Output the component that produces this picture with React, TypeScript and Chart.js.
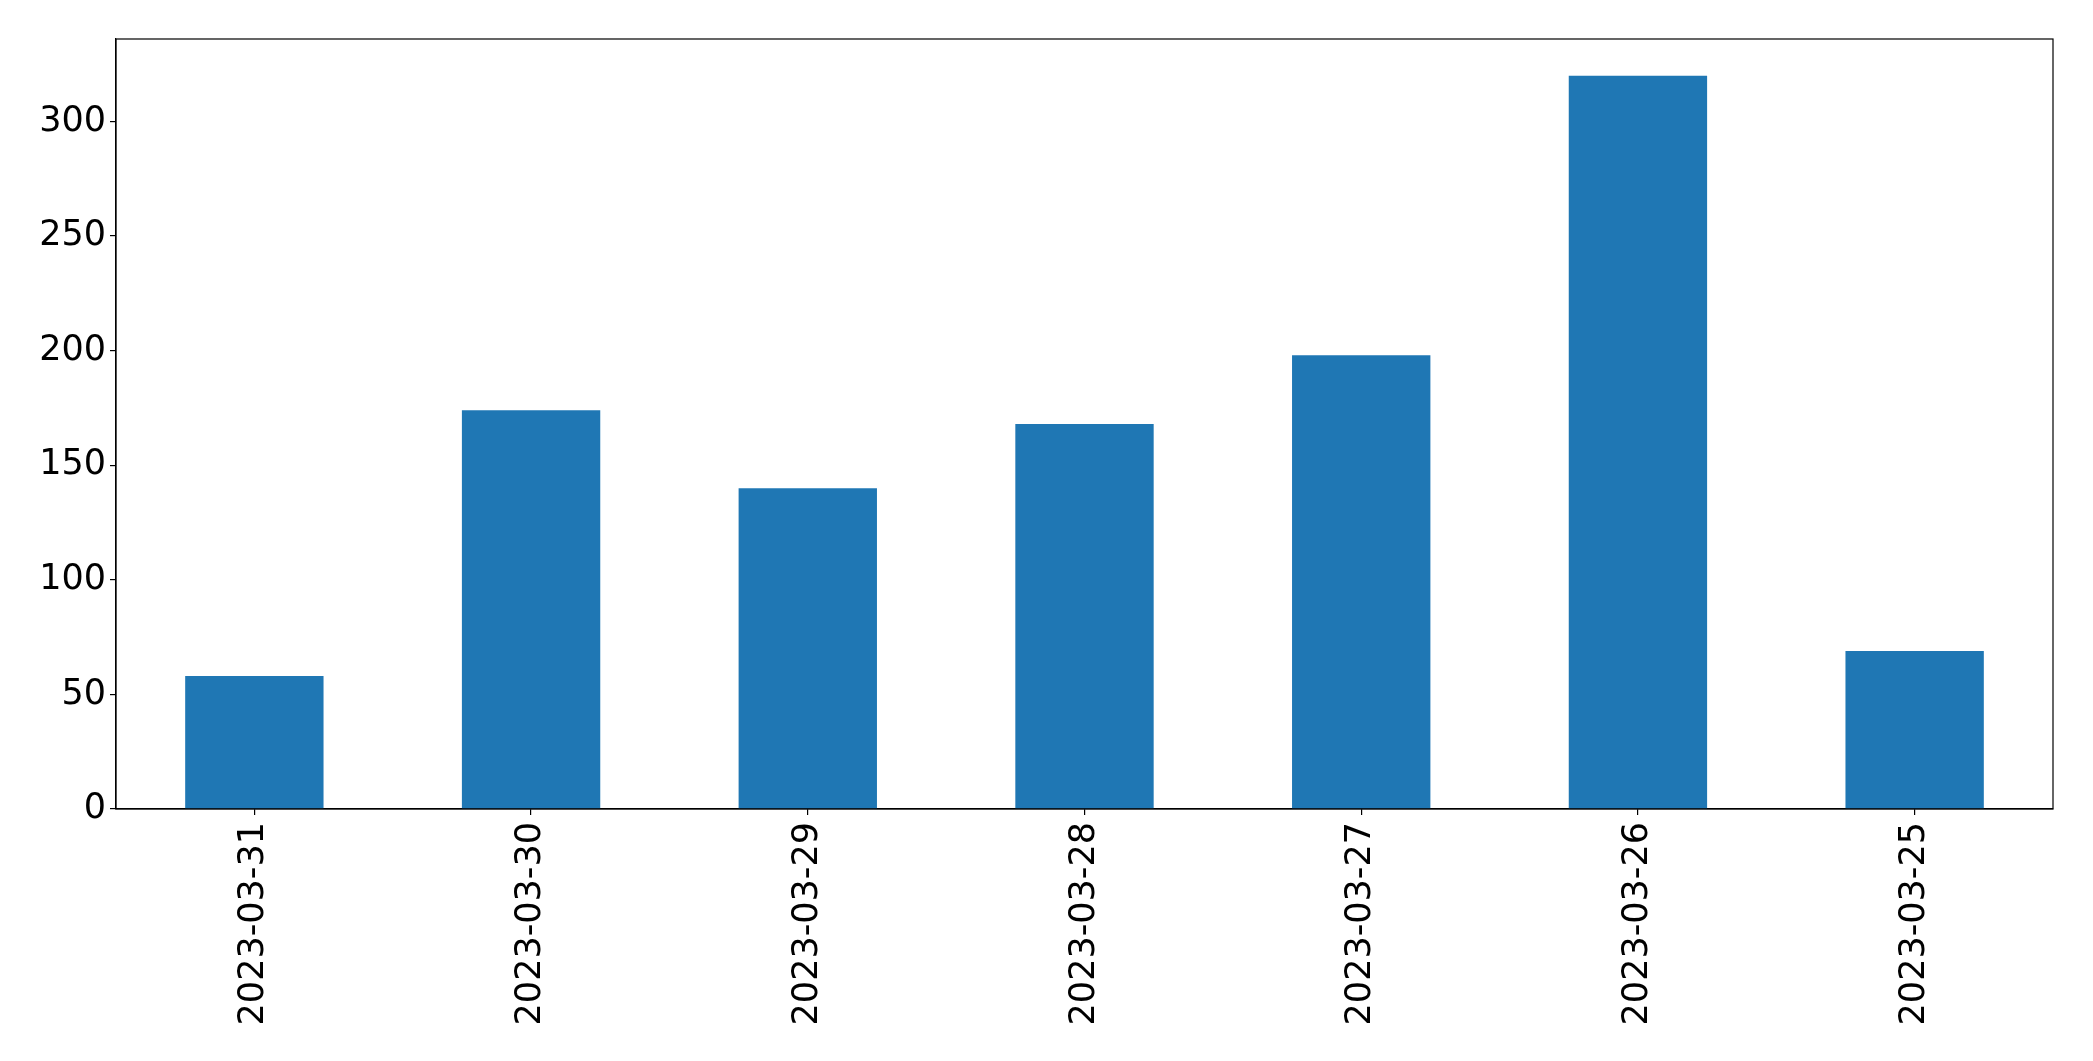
import React, { useEffect, useRef } from "react";
import { Chart, registerables } from "chart.js";

Chart.register(...registerables);

const categories = ["2023-03-31", "2023-03-30", "2023-03-29", "2023-03-28", "2023-03-27", "2023-03-26", "2023-03-25"];
const values = [58, 174, 140, 168, 198, 320, 69];
const yTicks = [0, 50, 100, 150, 200, 250, 300];

const FONT = "'DejaVu Sans', sans-serif";

const frame = {
  id: "frame",
  afterDraw(chart: any) {
    const { ctx, chartArea } = chart;
    ctx.save();
    ctx.strokeStyle = "#000";
    ctx.lineWidth = 1.2;
    ctx.strokeRect(chartArea.left, chartArea.top, chartArea.right - chartArea.left, chartArea.bottom - chartArea.top);
    ctx.restore();
  },
};

export default function App() {
  const ref = useRef<HTMLCanvasElement | null>(null);
  useEffect(() => {
    document.body.style.margin = "0";
    const chart = new Chart(ref.current!, {
      type: "bar",
      data: {
        labels: categories,
        datasets: [
          {
            data: values,
            backgroundColor: "#1f77b4",
            borderWidth: 0,
            barPercentage: 0.5,
            categoryPercentage: 1,
          },
        ],
      },
      plugins: [frame],
      options: {
        animation: false,
        responsive: false,
        maintainAspectRatio: false,
        layout: { padding: { top: 39, right: 40, left: 0, bottom: 0 } },
        plugins: { legend: { display: false }, tooltip: { enabled: false } },
        scales: {
          x: {
            offset: true,
            grid: { display: true, drawOnChartArea: false, drawTicks: true, tickLength: 6, color: "#000", lineWidth: 1.2, offset: false },
            border: { display: true, color: "#000", width: 1.2 },
            ticks: {
              color: "#000",
              font: { family: FONT, size: 35 },
              maxRotation: 90,
              minRotation: 90,
              padding: 7,
              autoSkip: false,
            },
            afterFit(scale: any) {
              scale.height = 252;
            },
          },
          y: {
            min: 0,
            max: 336,
            grid: { display: true, drawOnChartArea: false, drawTicks: true, tickLength: 6, color: "#000", lineWidth: 1.2 },
            border: { display: true, color: "#000", width: 1.2 },
            ticks: {
              color: "#000",
              font: { family: FONT, size: 35 },
              padding: 4,
              stepSize: 50,
            },
            afterBuildTicks(scale: any) {
              scale.ticks = yTicks.map((v) => ({ value: v }));
            },
            afterFit(scale: any) {
              scale.width = 116;
            },
          },
        },
      },
    });
    return () => chart.destroy();
  }, []);
  return (
    <div style={{ position: "fixed", left: 0, top: 0, width: 2093, height: 1061, background: "#fff" }}>
      <canvas ref={ref} width={2093} height={1061} style={{ width: 2093, height: 1061 }} />
    </div>
  );
}
